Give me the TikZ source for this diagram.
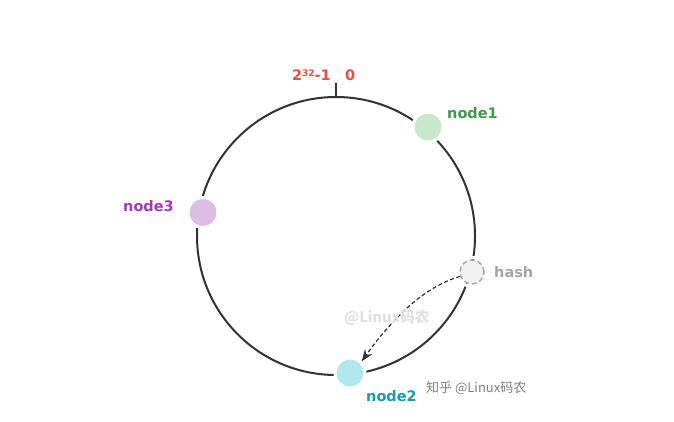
\documentclass[tikz,border=0pt]{standalone}
\usepackage{fontspec}
\setmainfont{DejaVu Sans}
\newfontfamily\cjk{Noto Sans CJK SC}
\usetikzlibrary{arrows.meta}
\definecolor{ringc}{HTML}{333333}
\definecolor{redc}{HTML}{E8503E}
\definecolor{greenfill}{HTML}{C8E8CC}
\definecolor{greentext}{HTML}{3E9A46}
\definecolor{purplefill}{HTML}{DDBDE6}
\definecolor{purpletext}{HTML}{A13BB4}
\definecolor{cyanfill}{HTML}{B0E8EE}
\definecolor{cyantext}{HTML}{1A9AAA}
\definecolor{hashfill}{HTML}{F1F1F4}
\definecolor{hashline}{HTML}{A8A8AE}
\definecolor{hashtext}{HTML}{A2A5AD}
\begin{document}
\begin{tikzpicture}[x=1pt,y=-1pt,
  ringstyle/.style={circle,draw=ringc,line width=2pt,minimum size=278pt,inner sep=0pt},
  member/.style={circle,minimum size=30pt,inner sep=0pt,draw=white,line width=3pt},
  lbl/.style={font=\bfseries\fontsize{14.5}{16}\selectfont,anchor=west,inner sep=0pt}]
\useasboundingbox (0,0) rectangle (674,422);
\node[ringstyle] (ring) at (336,236) {};
\coordinate (tickend) at (336,83);
\draw[ringc,line width=2pt] (ring.north) -- (tickend);
\node[font=\bfseries\fontsize{14.5}{16}\selectfont,text=redc,anchor=east,inner sep=0pt] (maxv) at (331,75) {2\raisebox{0.45ex}{\fontsize{9}{10}\selectfont 32}-1};
\node[font=\bfseries\fontsize{14.5}{16}\selectfont,text=redc,anchor=west,inner sep=0pt] (zero) at (345,75) {0};
\node[member,fill=greenfill] (n1) at (428,127) {};
\node[lbl,text=greentext] (n1l) at (447,113) {node1};
\node[member,fill=purplefill] (n3) at (203,212.5) {};
\node[lbl,text=purpletext] (n3l) at (123,206) {node3};
\node[member,fill=cyanfill] (n2) at (350,373) {};
\node[lbl,text=cyantext] (n2l) at (366,396) {node2};
\node[circle,minimum size=29pt,inner sep=0pt,draw=white,line width=3pt] (hashbg) at (472,272) {};
\node[circle,minimum size=24pt,inner sep=0pt,fill=hashfill,draw=hashline,line width=1.5pt,dash pattern=on 5pt off 3pt] (hash) at (472,272) {};
\node[lbl,text=hashtext] (hashl) at (494,272) {hash};
\draw[ringc,line width=1.2pt,dash pattern=on 4pt off 2.5pt,-{Stealth[length=12pt,width=9pt]}]
  (hash.200) .. controls (425,287) and (395,315) .. (n2.45);
\node[font=\cjk\bfseries\fontsize{14.5}{16}\selectfont,text=black!12,anchor=west,inner sep=0pt] (wm1) at (344,318) {@Linux码农};
\node[font=\cjk\fontsize{13}{15}\selectfont,text=black!50,anchor=west,inner sep=0pt] (wm2) at (426,388) {知乎 @Linux码农};
\end{tikzpicture}
\end{document}
